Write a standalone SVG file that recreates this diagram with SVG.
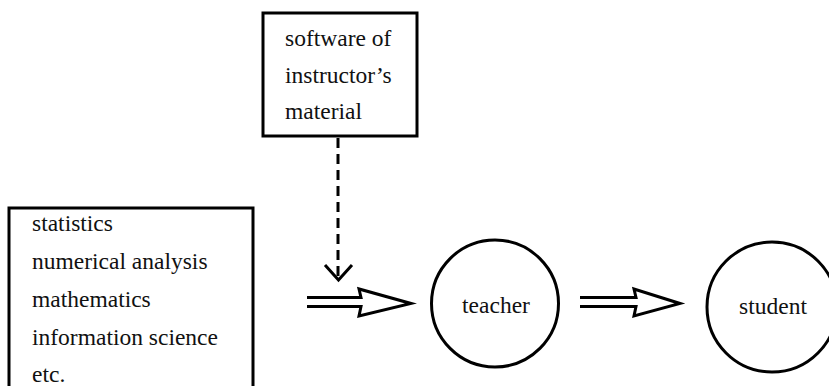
<svg xmlns="http://www.w3.org/2000/svg" width="829" height="386" viewBox="0 0 829 386">
<style>
  .box { fill: none; stroke: #000; stroke-width: 3; }
  .node { fill: none; stroke: #000; stroke-width: 3; }
  .txt { font-family: "Liberation Serif", "Times New Roman", serif; font-size: 23.5px; fill: #111; }
  .dbl { fill: #fff; stroke: #000; stroke-width: 3; stroke-linejoin: miter; }
  .dash { fill: none; stroke: #000; stroke-width: 3; stroke-dasharray: 10 6; }
  .head { fill: none; stroke: #000; stroke-width: 3; }
</style>
<rect width="829" height="386" fill="#fff"/>
<g id="software">
  <rect class="box" x="263" y="13" width="154" height="123"/>
  <text class="txt" x="285" y="46">software of</text>
  <text class="txt" x="285" y="83">instructor’s</text>
  <text class="txt" x="285" y="119">material</text>
</g>
<g id="subjects">
  <path class="box" d="M9,392 L9,208 L253,208 L253,392"/>
  <text class="txt" x="32" y="231">statistics</text>
  <text class="txt" x="32" y="269">numerical analysis</text>
  <text class="txt" x="32" y="307">mathematics</text>
  <text class="txt" x="32" y="345">information science</text>
  <text class="txt" x="32" y="382">etc.</text>
</g>
<g id="teacher">
  <circle class="node" cx="495" cy="303.5" r="63.5"/>
  <text class="txt" x="496" y="313" text-anchor="middle">teacher</text>
</g>
<g id="student">
  <circle class="node" cx="772" cy="307" r="65"/>
  <text class="txt" x="773" y="314" text-anchor="middle">student</text>
</g>
<g id="connectors">
  <line class="dash" x1="338" y1="138" x2="338" y2="278"/>
  <polyline class="head" points="325,265 338.5,280 352,265"/>
  <path class="dbl" d="M307,297.5 L361,297.5 L359,289 L411,303.5 L359,316 L361,306.5 L307,306.5"/>
  <path class="dbl" d="M580,297.5 L636,297.5 L634,289 L680,303.5 L634,316 L636,306.5 L580,306.5"/>
</g>
</svg>
